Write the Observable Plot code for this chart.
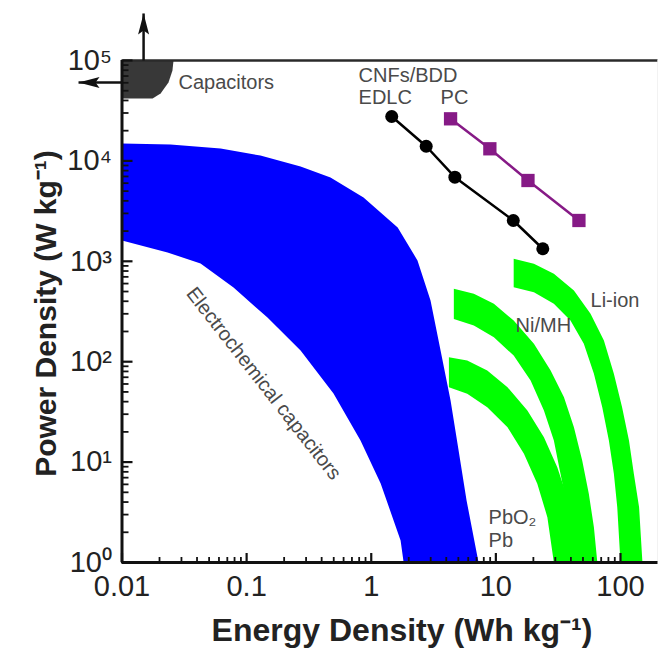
<!DOCTYPE html>
<html>
<head>
<meta charset="utf-8">
<script src="https://cdn.jsdelivr.net/npm/d3@7"></script>
<script src="https://cdn.jsdelivr.net/npm/@observablehq/plot@0.6"></script>
<style>
  html, body { margin: 0; padding: 0; background: #fff; }
  svg { display: block; }
</style>
</head>
<body>
<div id="chart"></div>
<script>
// ---------- axis ticks ----------
const xMajorTicks = [0.01, 0.1, 1, 10, 100];
const xTickLabels = ["0.01", "0.1", "1", "10", "100"];
const yMajorTicks = [1, 10, 100, 1000, 10000, 100000];
const yTickLabels = ["10\u2070", "10\u00b9", "10\u00b2", "10\u00b3", "10\u2074", "10\u2075"];
const minorMultipliers = [2, 3, 4, 5, 6, 7, 8, 9];

// ---------- Capacitors region (energy Wh/kg, power W/kg) ----------
const capE = [0.01, 0.0259, 0.0254, 0.0236, 0.0204, 0.0176, 0.01];
const capP = [100000, 100000, 79500, 60400, 46900, 41800, 41800];

// ---------- Electrochemical capacitors region ----------
const ecUpperE = [0.01, 0.0245, 0.0618, 0.129, 0.271, 0.471, 0.867, 1.63, 2.35, 2.99, 3.60, 4.33, 5.02, 5.82, 7.26];
const ecUpperP = [14900, 14560, 13300, 11300, 8800, 6840, 4320, 2170, 1020, 407, 129, 41, 13.1, 4.15, 1];
const ecLowerE = [0.01, 0.0232, 0.0427, 0.0785, 0.147, 0.271, 0.498, 0.820, 1.19, 1.72, 1.82];
const ecLowerP = [1610, 1224, 951, 548, 275, 129, 48.2, 16.4, 6.12, 1.66, 1];

// ---------- PbO2/Pb band ----------
const pbUpperE = [4.20, 5.89, 8.53, 12.4, 17.9, 24.3, 31.1, 37.4, 45.0, 52.5];
const pbUpperP = [111, 103, 81.7, 55.7, 32.7, 17.7, 8.9, 4.47, 2.08, 1];
const pbLowerE = [4.20, 5.89, 8.53, 12.4, 16.8, 21.5, 25.9, 29.2];
const pbLowerP = [55.7, 47.9, 35.2, 22.3, 12.1, 6.08, 2.83, 1];

// ---------- Ni/MH band ----------
const nimhUpperE = [4.60, 6.66, 9.64, 13.9, 20.2, 27.5, 35.2, 42.3, 49.3, 55.7, 61.2, 65.2];
const nimhUpperP = [532, 474, 377, 257, 151, 81.7, 44.3, 22.3, 10.4, 4.83, 2.25, 1];
const nimhLowerE = [4.60, 6.66, 9.64, 13.9, 19.0, 24.3, 29.2, 33.0, 37.4, 39.7, 41.3];
const nimhLowerP = [267, 230, 175, 115, 65, 32.7, 16.4, 7.64, 3.56, 1.66, 1];

// ---------- Li-ion band ----------
const liUpperE = [13.9, 20.2, 29.2, 42.3, 57.5, 73.6, 88.5, 103, 117, 128, 141, 150];
const liUpperP = [1059, 944, 750, 512, 300, 163, 75.7, 35.2, 16.4, 7.64, 3.56, 1];
const liLowerE = [13.9, 20.2, 29.2, 39.7, 50.8, 61.2, 71.4, 80.7, 88.5, 94.2, 100];
const liLowerP = [552, 492, 377, 257, 151, 75.7, 35.2, 16.4, 7.64, 3.56, 1];

// ---------- measured series ----------
const edlcE = [1.46, 2.76, 4.69, 13.8, 23.8];
const edlcP = [27700, 14000, 6880, 2550, 1333];
const pcE = [4.33, 8.95, 18.1, 46.4];
const pcP = [26250, 13200, 6380, 2550];

// ---------- annotation labels ----------
const labelText = ["Capacitors", "CNFs/BDD", "EDLC", "PC", "Li-ion", "Ni/MH", "PbO\u2082", "Pb"];
const labelE = [0.0284, 0.791, 0.791, 3.60, 57.5, 14.4, 8.74, 8.74];
const labelP = [60400, 70900, 42800, 42800, 407, 230, 2.81, 1.66];
const ecLabel = {text: "Electrochemical capacitors", e: 0.137, p: 60.7};

// ---------- arrows (axis-direction arrows at the capacitor corner) ----------
const arrowData = [
  {e1: 0.0149, p1: 100000, e2: 0.0149, p2: 294000, dir: 0},
  {e1: 0.0100, p1: 60400, e2: 0.00448, p2: 60400, dir: -90}
];

// ---------- build tables ----------
const pts = (E, P) => E.map((e, i) => ({e, p: P[i]}));
const polygon = (uE, uP, lE, lP) => [...pts(uE, uP), ...pts(lE, lP).reverse()];

const capPoly = pts(capE, capP);
const ecPoly = polygon(ecUpperE, ecUpperP, ecLowerE, ecLowerP);
const pbPoly = polygon(pbUpperE, pbUpperP, pbLowerE, pbLowerP);
const nimhPoly = polygon(nimhUpperE, nimhUpperP, nimhLowerE, nimhLowerP);
const liPoly = polygon(liUpperE, liUpperP, liLowerE, liLowerP);
const edlc = pts(edlcE, edlcP);
const pc = pts(pcE, pcP);
const labels = labelText.map((t, i) => ({t, e: labelE[i], p: labelP[i]}));

const xMinorTicks = xMajorTicks.slice(0, 4).flatMap(d => minorMultipliers.map(m => +(d * m).toPrecision(3)));
const yMinorTicks = yMajorTicks.slice(0, 5).flatMap(d => minorMultipliers.map(m => d * m));

// slender filled arrowhead, tip at origin, pointing up
const arrowHead = {
  draw(ctx) {
    ctx.moveTo(0, 0);
    ctx.lineTo(5.5, 21);
    ctx.lineTo(0, 17);
    ctx.lineTo(-5.5, 21);
    ctx.closePath();
  }
};

const W = 658, H = 648, ML = 121.5, MR = 0.5, MT = 60, MB = 86;

const green = "#00ff00";
const blue = "#0000ff";
const annot = "#4a4a4a";

const chart = Plot.plot({
  width: W,
  height: H,
  marginLeft: ML,
  marginRight: MR,
  marginTop: MT,
  marginBottom: MB,
  style: {fontFamily: "'Liberation Sans', Arial, sans-serif", background: "#fff", color: "#111"},
  x: {type: "log", domain: [0.01, 200]},
  y: {type: "log", domain: [1, 100000]},
  marks: [
    // filled regions
    Plot.line(ecPoly, {x: "e", y: "p", fill: blue, stroke: "none"}),
    Plot.line(pbPoly, {x: "e", y: "p", fill: green, stroke: "none"}),
    Plot.line(nimhPoly, {x: "e", y: "p", fill: green, stroke: "none"}),
    Plot.line(liPoly, {x: "e", y: "p", fill: green, stroke: "none"}),
    Plot.line(capPoly, {x: "e", y: "p", fill: "#383838", stroke: "none"}),

    // frame lines
    Plot.ruleY([100000], {stroke: "#2a2a2a", strokeWidth: 2.5}),
    Plot.ruleX([200], {stroke: "#e4e4e4", strokeWidth: 1}),

    // inward ticks: right-pointing ticks on the left frame edge, upward ticks on the bottom edge
    Plot.axisY({ticks: yMajorTicks, anchor: "right", frameAnchor: "left", tickSize: 10, strokeWidth: 2.2, stroke: "#111", fill: "none", label: null}),
    Plot.axisY({ticks: yMinorTicks, anchor: "right", frameAnchor: "left", tickSize: 6, strokeWidth: 1.8, stroke: "#111", fill: "none", label: null}),
    Plot.axisX({ticks: xMajorTicks, anchor: "top", frameAnchor: "bottom", tickSize: 10, strokeWidth: 2.2, stroke: "#111", fill: "none", label: null}),
    Plot.axisX({ticks: xMinorTicks, anchor: "top", frameAnchor: "bottom", tickSize: 6, strokeWidth: 1.8, stroke: "#111", fill: "none", label: null}),

    Plot.ruleX([0.01], {stroke: "#111", strokeWidth: 3}),
    Plot.ruleY([1], {stroke: "#111", strokeWidth: 3}),

    // tick labels
    Plot.axisX({ticks: xMajorTicks, tickSize: 0, tickPadding: 13, fontSize: 29, fill: "#222",
      tickFormat: d => xTickLabels[xMajorTicks.indexOf(d)], label: null}),
    Plot.axisY({ticks: yMajorTicks, tickSize: 0, tickPadding: 10, fontSize: 29, fill: "#222",
      tickFormat: d => yTickLabels[yMajorTicks.indexOf(d)], label: null}),

    // measured series
    Plot.line(edlc, {x: "e", y: "p", stroke: "#000", strokeWidth: 2.5}),
    Plot.dot(edlc, {x: "e", y: "p", fill: "#000", r: 6.5, symbol: "circle"}),
    Plot.line(pc, {x: "e", y: "p", stroke: "#861a86", strokeWidth: 2.5}),
    Plot.dot(pc, {x: "e", y: "p", fill: "#861a86", r: 7.5, symbol: "square"}),

    // annotations
    Plot.text(labels, {x: "e", y: "p", text: "t", textAnchor: "start", fontSize: 20, fill: annot}),
    Plot.text([ecLabel], {x: "e", y: "p", text: "text", rotate: 52, fontSize: 20, fill: annot}),

    // arrows
    Plot.link(arrowData, {x1: "e1", y1: "p1", x2: "e2", y2: "p2", stroke: "#111", strokeWidth: 2.5}),
    Plot.dot(arrowData, {x: "e2", y: "p2", symbol: arrowHead, rotate: "dir", fill: "#111", stroke: "none", r: 5}),

    // axis titles
    Plot.text(["Energy Density (Wh kg\u207b\u00b9)"], {frameAnchor: "bottom", text: d => d, dy: 68, dx: 12,
      textAnchor: "middle", lineAnchor: "middle", fontSize: 32, fontWeight: "bold", fill: "#222"}),
    Plot.text(["Power Density (W kg\u207b\u00b9)"], {frameAnchor: "left", text: d => d, dx: -76, dy: 2, rotate: -90,
      textAnchor: "middle", lineAnchor: "middle", fontSize: 30, fontWeight: "bold", fill: "#222"})
  ]
});

document.getElementById("chart").appendChild(chart);
</script>
</body>
</html>
